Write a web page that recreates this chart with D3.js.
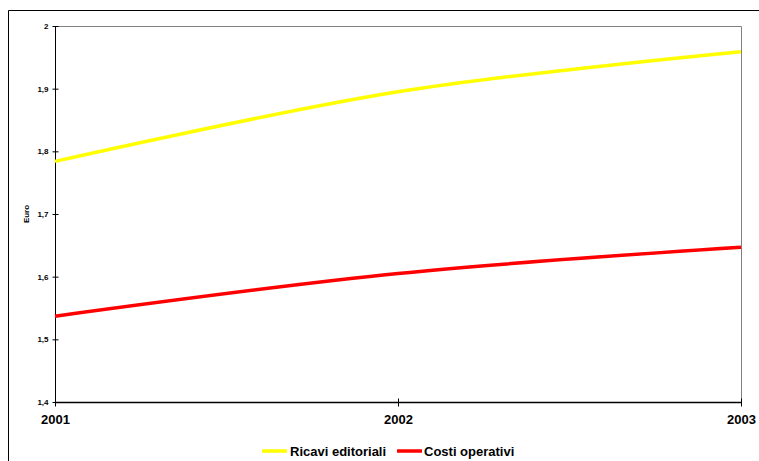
<!DOCTYPE html>
<html><head><meta charset="utf-8">
<script src="https://cdn.jsdelivr.net/npm/d3@7"></script>
<style>body{margin:0;background:#fff}svg{display:block;font-family:Arial,"Liberation Sans",sans-serif}</style>
</head><body><svg id="c" width="759" height="461"></svg>
<script>
const years = ["2001","2002","2003"];
const ricavi = [1.784, 1.895, 1.959];
const costi = [1.537, 1.605, 1.647];
const yTicks = [1.4,1.5,1.6,1.7,1.8,1.9,2];
const seriesNames = ["Ricavi editoriali","Costi operativi"];
const seriesColors = ["#ffff00","#ff0000"];

const svg = d3.select("#c");
const L=55, R=741, T=26, B=402;
// outer frame
svg.append("path").attr("d","M8.5,461 V10.5 H759").attr("fill","none").attr("stroke","#000").attr("stroke-width",1);

const x = d3.scalePoint().domain(years).range([L,R]);
const y = d3.scaleLinear().domain([1.4,2]).range([B,T]);

// plot area border (top/right gray)
svg.append("path").attr("d",`M${L},${T+0.5} H${R+0.5} V${B}`).attr("fill","none").attr("stroke","#808080").attr("stroke-width",1);

const fmt = d=> d===2? "2" : d3.format(".1f")(d).replace(".",",");
const ya = svg.append("g").attr("transform",`translate(${L+0.5},0)`)
  .call(d3.axisLeft(y).tickValues(yTicks).tickFormat(fmt).tickSize(3).tickPadding(4));
ya.select(".domain").remove();
ya.selectAll(".tick line").attr("x1",-3).attr("x2",3).attr("stroke","#000");
ya.selectAll("text").attr("font-size",8).attr("font-weight","bold").attr("fill","#000");
svg.append("line").attr("x1",L+0.5).attr("x2",L+0.5).attr("y1",T).attr("y2",B).attr("stroke","#000");

const xa = svg.append("g").attr("transform",`translate(0,${B+0.5})`)
  .call(d3.axisBottom(x).tickSize(0).tickPadding(12));
xa.select(".domain").remove();
xa.selectAll(".tick line").remove();
xa.selectAll(".tick").append("line").attr("y1",-4).attr("y2",4).attr("stroke","#000");
xa.selectAll("text").attr("font-size",13).attr("font-weight","bold").attr("fill","#000");
svg.append("line").attr("x1",L).attr("x2",R+1).attr("y1",B+0.5).attr("y2",B+0.5).attr("stroke","#000").attr("stroke-width",1.5);

svg.append("text").attr("transform",`translate(29,214) rotate(-90)`).attr("text-anchor","middle")
  .attr("font-size",8).attr("font-weight","bold").text("Euro");

const line = d3.line().x((d,i)=>x(years[i])).y(d=>y(d)).curve(d3.curveCatmullRom.alpha(0.5));
[ricavi,costi].forEach((s,i)=>{
  svg.append("path").attr("d",line(s)).attr("fill","none").attr("stroke",seriesColors[i]).attr("stroke-width",3.5);
});

// legend
const lg = [{x:262,tx:290},{x:397,tx:424}];
seriesNames.forEach((n,i)=>{
  svg.append("line").attr("x1",lg[i].x).attr("x2",lg[i].x+25).attr("y1",451).attr("y2",451).attr("stroke",seriesColors[i]).attr("stroke-width",3.5);
  svg.append("text").attr("x",lg[i].tx).attr("y",456).attr("font-size",13).attr("font-weight","bold").text(n);
});
</script></body></html>
